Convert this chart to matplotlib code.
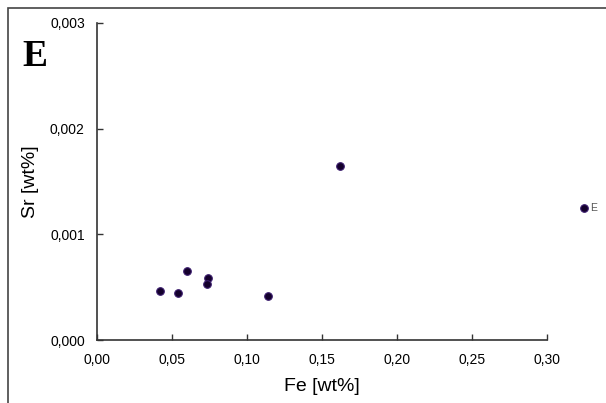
import matplotlib.pyplot as plt
from matplotlib.ticker import FuncFormatter
from matplotlib.patches import Rectangle

plt.rcParams['font.family'] = ['Liberation Sans', 'DejaVu Sans']

# Data
fe = [0.042, 0.054, 0.060, 0.0737, 0.073, 0.1135, 0.1616, 0.3247]
sr = [0.000466, 0.000447, 0.00065, 0.000587, 0.000533, 0.000419, 0.001646, 0.00125]
point_labels = ['', '', '', '', '', '', '', 'E']

xticks = [0.00, 0.05, 0.10, 0.15, 0.20, 0.25, 0.30]
yticks = [0.000, 0.001, 0.002, 0.003]

fig = plt.figure(figsize=(6.06, 4.03), dpi=100)
W, H = 606, 403
ax = fig.add_axes([97.3 / W, 1 - 340 / H, 450 / W, 317 / H])

ax.scatter(fe, sr, s=30, color='#14002c', edgecolors='#3b1d6e', linewidths=0.8,
           clip_on=False, zorder=3)
for x, y, lab in zip(fe, sr, point_labels):
    if lab:
        ax.annotate(lab, (x, y), xytext=(4, 0), textcoords='offset points',
                    fontsize=7.5, color='#555555', va='center', annotation_clip=False)

ax.set_xlim(0, 0.30)
ax.set_ylim(0, 0.003)
ax.set_xticks(xticks)
ax.set_yticks(yticks)
ax.xaxis.set_major_formatter(FuncFormatter(lambda v, p: f'{v:.2f}'.replace('.', ',')))
ax.yaxis.set_major_formatter(FuncFormatter(lambda v, p: f'{v:.3f}'.replace('.', ',')))
ax.tick_params(direction='in', length=4, width=1, color='#333333', labelsize=10)
ax.tick_params(axis='x', pad=9)
ax.tick_params(axis='y', pad=9)

for s in ['top', 'right']:
    ax.spines[s].set_visible(False)
for s in ['left', 'bottom']:
    ax.spines[s].set_color('#333333')
    ax.spines[s].set_linewidth(1.2)

ax.set_xlabel('Fe [wt%]', fontsize=14)
ax.set_ylabel('Sr [wt%]', fontsize=14)
ax.xaxis.set_label_coords(0.5, -0.12)
ax.yaxis.set_label_coords(-0.13, 0.5)

fig.text(35 / W, 1 - 57 / H, 'E', fontsize=27, fontweight='bold',
         family='Liberation Serif', ha='center', va='center')

# outer frame
fig.patches.append(Rectangle((8 / W, -0.1), 1.2, 1 - 8 / H + 0.1,
                             transform=fig.transFigure, fill=False,
                             edgecolor='#444444', linewidth=1.2))

fig.savefig('out.png', dpi=100)
